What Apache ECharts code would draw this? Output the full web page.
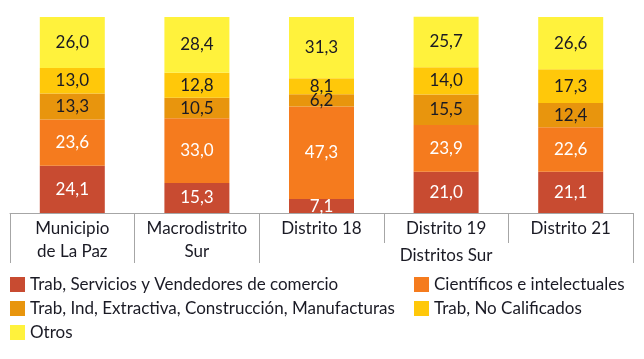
<!DOCTYPE html>
<html>
<head>
<meta charset="utf-8">
<script src="https://cdn.jsdelivr.net/npm/echarts@6/dist/echarts.min.js"></script>
<style>html,body{margin:0;padding:0;background:#fff}#c{width:644px;height:359px}</style>
</head>
<body>
<div id="c"></div>
<script>
const categories = ['Municipio\nde La Paz', 'Macrodistrito\nSur', 'Distrito 18', 'Distrito 19', 'Distrito 21'];
const groupLabels = ['', '', '', 'Distritos Sur', ''];
const seriesNames = [
  'Trab, Servicios y Vendedores de comercio',
  'Científicos e intelectuales',
  'Trab, Ind, Extractiva, Construcción, Manufacturas',
  'Trab, No Calificados',
  'Otros'
];
const trabServicios = [24.1, 15.3, 7.1, 21.0, 21.1];
const cientificos = [23.6, 33.0, 47.3, 23.9, 22.6];
const trabInd = [13.3, 10.5, 6.2, 15.5, 12.4];
const noCalificados = [13.0, 12.8, 8.1, 14.0, 17.3];
const otros = [26.0, 28.4, 31.3, 25.7, 26.6];

const values = [trabServicios, cientificos, trabInd, noCalificados, otros];
const colors = ['#C84B31', '#F57B1E', '#E8950D', '#FFC80A', '#FFF23C'];
const labelColors = ['#ffffff', '#ffffff', '#1a1a24', '#1a1a24', '#1a1a24'];
const TEXT = '#1a1a24';
const FONT = 'Lato';
const chart = echarts.init(document.getElementById('c'), null, {renderer: 'canvas'});
const fmt = v => Number(v).toFixed(1).replace('.', ',');

chart.setOption({
  animation: false,
  textStyle: {fontFamily: FONT},
  grid: {left: 10, right: 11, top: 17, bottom: 146},
  legend: [
    {
      orient: 'vertical', left: 10, top: 276, padding: 0, itemWidth: 15, itemHeight: 15, itemGap: 7,
      icon: 'rect', data: [seriesNames[0], seriesNames[2], seriesNames[4]],
      textStyle: {fontFamily: FONT, fontSize: 17, lineHeight: 16, color: TEXT}
    },
    {
      orient: 'vertical', left: 414, top: 276, padding: 0, itemWidth: 15, itemHeight: 15, itemGap: 7,
      icon: 'rect', data: [seriesNames[1], seriesNames[3]],
      textStyle: {fontFamily: FONT, fontSize: 17, lineHeight: 16, color: TEXT}
    }
  ],
  xAxis: [
    {
      type: 'category', data: categories, position: 'bottom',
      axisLine: {show: true, lineStyle: {color: '#a6a6a6', width: 1}},
      axisTick: {show: true, interval: 0, length: 30, lineStyle: {color: '#a6a6a6'}},
      axisLabel: {interval: 0, margin: 4, fontFamily: FONT, fontSize: 17, lineHeight: 23, color: TEXT, verticalAlign: 'top'}
    },
    {
      type: 'category', data: groupLabels, position: 'bottom', offset: 0,
      axisLine: {show: false},
      axisTick: {show: true, interval: function (i) { return i <= 2; }, length: 50, lineStyle: {color: '#a6a6a6'}},
      axisLabel: {interval: 0, margin: 31, fontFamily: FONT, fontSize: 17, lineHeight: 23, color: TEXT, verticalAlign: 'top'}
    }
  ],
  yAxis: {type: 'value', min: 0, max: 100, show: false, splitLine: {show: false}},
  series: seriesNames.map((name, k) => ({
    name: name,
    type: 'bar',
    stack: 'total',
    barWidth: 65,
    xAxisIndex: 0,
    clip: false,
    itemStyle: {color: colors[k]},
    label: {
      show: true, position: 'inside', formatter: p => fmt(p.value),
      fontFamily: FONT, fontSize: 17, color: labelColors[k]
    },
    data: values[k]
  }))
});
</script>
</body>
</html>
